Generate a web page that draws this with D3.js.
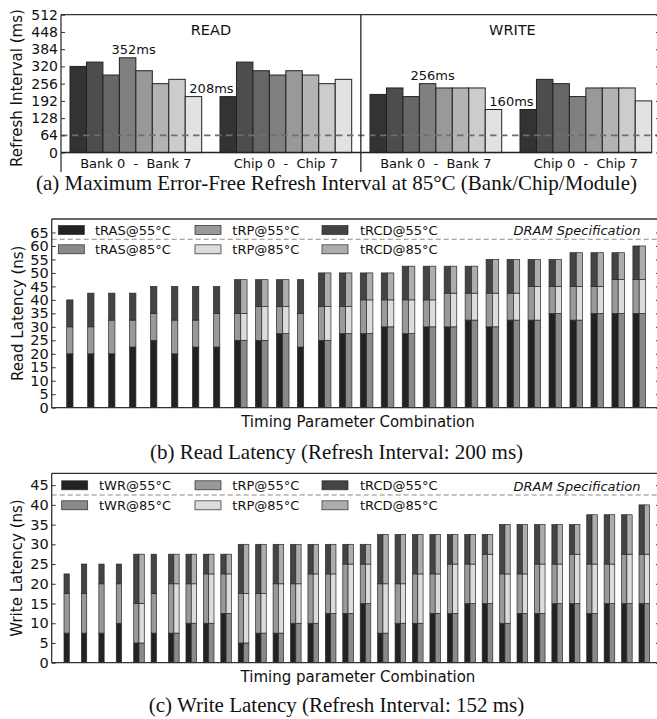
<!DOCTYPE html>
<html>
<head>
<meta charset="utf-8">
<script src="https://cdn.jsdelivr.net/npm/d3@7"></script>
<style>
  body { margin: 0; background: #fff; }
  svg { display: block; font-family: "DejaVu Sans", sans-serif; }
  .caption { font-family: "Liberation Serif", "Times New Roman", serif; }
</style>
</head>
<body>
<svg id="chart" width="657" height="719"></svg>
<script>
// ---------- (a) maximum error-free refresh interval at 85°C, in ms ----------
const unitIds    = ["0", "1", "2", "3", "4", "5", "6", "7"];
const readBank   = [320, 336, 288, 352, 304, 256, 272, 208];
const readChip   = [208, 336, 304, 288, 304, 288, 256, 272];
const writeBank  = [216, 240, 208, 256, 240, 240, 240, 160];
const writeChip  = [160, 272, 256, 208, 240, 240, 240, 192];
const refreshTicks = [0, 64, 128, 192, 256, 320, 384, 448, 512];
const refreshSpec  = 64;

// ---------- (b) read latency per timing combination, in ns ----------
const readRAS = [20, 20, 20, 22.5, 25, 20, 22.5, 22.5, 25, 25, 27.5, 22.5, 25, 27.5,
                 27.5, 30, 27.5, 30, 30, 32.5, 30, 32.5, 32.5, 35, 32.5, 35, 35, 35];
const readRP  = [10, 10, 12.5, 10, 10, 12.5, 10, 12.5, 10, 12.5, 10, 12.5, 12.5, 10,
                 12.5, 10, 12.5, 10, 12.5, 10, 12.5, 10, 12.5, 10, 12.5, 10, 12.5, 12.5];
const readRCD = [10, 12.5, 10, 10, 10, 12.5, 12.5, 10, 12.5, 10, 10, 12.5, 12.5, 12.5,
                 10, 10, 12.5, 12.5, 10, 10, 12.5, 12.5, 10, 10, 12.5, 12.5, 10, 12.5];
// 1 = the combination also works at 85°C
const readHot = [0, 0, 0, 0, 0, 0, 0, 0, 1, 1, 1, 0, 1, 1,
                 1, 1, 1, 1, 1, 1, 1, 1, 1, 1, 1, 1, 1, 1];
const readTicks = [0, 5, 10, 15, 20, 25, 30, 35, 40, 45, 50, 55, 60, 65];
const readSpec  = 62.5;

// ---------- (c) write latency per timing combination, in ns ----------
const writeWR  = [7.5, 7.5, 7.5, 10, 5, 7.5, 7.5, 10, 10, 12.5, 5, 7.5, 7.5, 10, 10, 12.5, 12.5,
                  15, 7.5, 10, 10, 12.5, 12.5, 15, 15, 10, 12.5, 12.5, 15, 15, 12.5, 15, 15, 15];
const writeRP  = [10, 10, 12.5, 10, 10, 10, 12.5, 10, 12.5, 10, 12.5, 10, 12.5, 10, 12.5, 10, 12.5,
                  10, 12.5, 10, 12.5, 10, 12.5, 10, 12.5, 12.5, 10, 12.5, 10, 12.5, 12.5, 10, 12.5, 12.5];
const writeRCD = [5, 7.5, 5, 5, 12.5, 10, 7.5, 7.5, 5, 5, 12.5, 12.5, 10, 10, 7.5, 7.5, 5,
                  5, 12.5, 12.5, 10, 10, 7.5, 7.5, 5, 12.5, 12.5, 10, 10, 7.5, 12.5, 12.5, 10, 12.5];
const writeHot = [0, 0, 0, 0, 1, 0, 1, 1, 1, 1, 1, 1, 1, 1, 1, 1, 1,
                  1, 1, 1, 1, 1, 1, 1, 1, 1, 1, 1, 1, 1, 1, 1, 1, 1];
const writeTicks = [0, 5, 10, 15, 20, 25, 30, 35, 40, 45];
const writeSpec  = 42.5;

const readLegend  = ["tRAS@55°C", "tRAS@85°C", "tRP@55°C", "tRP@85°C", "tRCD@55°C", "tRCD@85°C"];
const writeLegend = ["tWR@55°C", "tWR@85°C", "tRP@55°C", "tRP@85°C", "tRCD@55°C", "tRCD@85°C"];

// ---------- styling ----------
const unitGrays = ["#333333", "#4d4d4d", "#666666", "#808080", "#999999", "#b3b3b3", "#cccccc", "#e2e2e2"];
const cool = ["#222222", "#999999", "#444444"];   // first param, tRP, tRCD at 55°C
const hot  = ["#8a8a8a", "#dcdcdc", "#adadad"];   // same at 85°C
const svg = d3.select("#chart");
const RIGHT = 660;

function spinesAndTicks(g, y, ticks, left, top, bottom, fontSize) {
  // top spine and left spine
  g.append("line").attr("x1", left).attr("x2", RIGHT).attr("y1", top).attr("y2", top)
    .attr("stroke", "#333").attr("stroke-width", 1.3);
  g.append("line").attr("x1", left).attr("x2", left).attr("y1", top).attr("y2", bottom)
    .attr("stroke", "#333").attr("stroke-width", 1.3);
  const ax = g.append("g").attr("transform", `translate(${left},0)`)
    .call(d3.axisLeft(y).tickValues(ticks).tickSizeInner(-4).tickSizeOuter(0).tickPadding(3));
  ax.select(".domain").remove();
  ax.selectAll("line").attr("stroke", "#333");
  ax.selectAll("text").attr("font-size", fontSize).attr("font-family", "DejaVu Sans").attr("fill", "#111");
  const axr = g.append("g").attr("transform", `translate(${RIGHT},0)`)
    .call(d3.axisRight(y).tickValues(ticks).tickSizeInner(-4).tickSizeOuter(0).tickFormat(""));
  axr.select(".domain").remove();
  axr.selectAll("line").attr("stroke", "#333");
}

function yTitle(text, x, y, size) {
  svg.append("text").attr("transform", `translate(${x},${y}) rotate(-90)`)
    .attr("text-anchor", "middle").attr("dy", "0.36em").attr("font-size", size)
    .attr("fill", "#111").text(text);
}

function caption(text, y) {
  svg.append("text").attr("class", "caption").attr("x", 336.5).attr("y", y)
    .attr("text-anchor", "middle").attr("font-size", 21).attr("fill", "#111").text(text);
}

// ================= (a) =================
{
  const left = 61, top = 14.7, bottom = 172;
  const g = svg.append("g");
  const y = d3.scaleLinear().domain([-72, 512]).range([bottom, top]);
  const panels = [
    { mode: "READ",  unit: "Bank", values: readBank },
    { mode: "READ",  unit: "Chip", values: readChip },
    { mode: "WRITE", unit: "Bank", values: writeBank },
    { mode: "WRITE", unit: "Chip", values: writeChip }
  ];
  const outer = d3.scaleBand().domain(d3.range(panels.length)).range([70, 651.7])
    .paddingInner(0.122).paddingOuter(0);
  const inner = d3.scaleBand().domain(unitIds).range([0, outer.bandwidth()]);

  panels.forEach((p, k) => {
    const pg = g.append("g").attr("transform", `translate(${outer(k)},0)`);
    pg.selectAll("rect").data(p.values).join("rect")
      .attr("x", (d, i) => inner(unitIds[i]))
      .attr("width", inner.bandwidth())
      .attr("y", d => y(d))
      .attr("height", d => y(0) - y(d))
      .attr("fill", (d, i) => unitGrays[i])
      .attr("stroke", "#222").attr("stroke-width", 1);
    pg.append("text").attr("x", outer.bandwidth() / 2).attr("y", 167.5)
      .attr("text-anchor", "middle").attr("font-size", 13).attr("fill", "#111")
      .style("white-space", "pre")
      .text(`${p.unit} ${unitIds[0]}  -  ${p.unit} ${unitIds[unitIds.length - 1]}`);
  });

  // zero line
  g.append("line").attr("x1", left).attr("x2", outer(3) + outer.bandwidth())
    .attr("y1", y(0)).attr("y2", y(0)).attr("stroke", "#222").attr("stroke-width", 1.5);
  // refresh interval of the DRAM specification
  g.append("line").attr("x1", left).attr("x2", RIGHT).attr("y1", y(refreshSpec)).attr("y2", y(refreshSpec))
    .attr("stroke", "#6e6e6e").attr("stroke-width", 1.6).attr("stroke-dasharray", "6.5,4.5");

  // best and worst unit annotated in each mode
  const notes = [
    { panel: 0, idx: 3, dx: 6 },
    { panel: 0, idx: 7, dx: 18 },
    { panel: 2, idx: 3, dx: 5 },
    { panel: 2, idx: 7, dx: 18 }
  ];
  notes.forEach(n => {
    const v = panels[n.panel].values[n.idx];
    g.append("text")
      .attr("x", outer(n.panel) + inner(unitIds[n.idx]) + inner.bandwidth() / 2 + n.dx)
      .attr("y", y(v) - 3.5).attr("text-anchor", "middle").attr("font-size", 13)
      .attr("fill", "#111").text(`${v}ms`);
  });

  spinesAndTicks(g, y, refreshTicks, left, top, bottom, 14);
  // divider between READ and WRITE
  const divX = (outer(1) + outer.bandwidth() + outer(2)) / 2;
  g.append("line").attr("x1", divX).attr("x2", divX).attr("y1", top).attr("y2", bottom)
    .attr("stroke", "#222").attr("stroke-width", 1.3);
  g.append("text").attr("x", (left + divX) / 2).attr("y", 34.5).attr("text-anchor", "middle")
    .attr("font-size", 14.5).attr("fill", "#111").text("READ");
  g.append("text").attr("x", (divX + RIGHT) / 2 + 2).attr("y", 34.5).attr("text-anchor", "middle")
    .attr("font-size", 14.5).attr("fill", "#111").text("WRITE");

  yTitle("Refresh Interval (ms)", 16.5, 88, 15);
  caption("(a) Maximum Error-Free Refresh Interval at 85°C (Bank/Chip/Module)", 190);
}

// ================= stacked latency panels =================
function latencyPanel(cfg) {
  const g = svg.append("g");
  const y = d3.scaleLinear().domain(cfg.yDomain).range([cfg.bottom, cfg.top]);
  const n = cfg.first.length;
  const x = d3.scaleLinear().domain([0, n - 1]).range(cfg.xRange);
  const w = cfg.barW;

  const rows = d3.range(n).map(i => ({ i, parts: [cfg.first[i], cfg.rp[i], cfg.rcd[i]], hot: cfg.hot[i] }));
  const segs = [];
  rows.forEach(r => {
    const temps = r.hot ? [0, 1] : [0];
    temps.forEach(t => {
      let acc = 0;
      r.parts.forEach((v, k) => {
        segs.push({ i: r.i, t, k, y0: acc, y1: acc + v });
        acc += v;
      });
    });
  });
  g.selectAll("rect.seg").data(segs).join("rect").attr("class", "seg")
    .attr("x", d => x(d.i) + d.t * w)
    .attr("width", w)
    .attr("y", d => y(d.y1))
    .attr("height", d => y(d.y0) - y(d.y1))
    .attr("fill", d => (d.t ? hot : cool)[d.k])
    .attr("stroke", "#2a2a2a").attr("stroke-width", 0.7);

  // bottom spine
  g.append("line").attr("x1", cfg.left).attr("x2", RIGHT).attr("y1", cfg.bottom).attr("y2", cfg.bottom)
    .attr("stroke", "#333").attr("stroke-width", 1.3);
  // total latency of the DRAM specification
  g.append("line").attr("x1", cfg.left).attr("x2", RIGHT).attr("y1", y(cfg.spec)).attr("y2", y(cfg.spec))
    .attr("stroke", "#8a8a8a").attr("stroke-width", 1.1).attr("stroke-dasharray", "5,3");
  g.append("text").attr("x", 640.5).attr("y", y(cfg.spec) - 4.5).attr("text-anchor", "end")
    .attr("font-size", 13).attr("font-style", "italic").attr("fill", "#111").text("DRAM Specification");

  // legend: three columns, 55°C on the first row, 85°C on the second
  cfg.legend.forEach((label, j) => {
    const col = Math.floor(j / 2), row = j % 2;
    const cy = cfg.legendRows[row];
    const temp = row === 0 ? cool : hot;
    g.append("rect").attr("x", cfg.legendSwatch[col]).attr("y", cy - 4.5)
      .attr("width", 26).attr("height", 9).attr("fill", temp[col])
      .attr("stroke", "#2a2a2a").attr("stroke-width", 0.7);
    g.append("text").attr("x", cfg.legendText[col]).attr("y", cy).attr("dy", "0.36em")
      .attr("font-size", 13).attr("fill", "#111").text(label);
  });

  spinesAndTicks(g, y, cfg.ticks, cfg.left, cfg.top, cfg.bottom, 14.5);
  g.append("text").attr("x", 358).attr("y", cfg.bottom + 19).attr("text-anchor", "middle")
    .attr("font-size", 15).attr("fill", "#111").text(cfg.xTitle);
  yTitle(cfg.yTitle, cfg.yTitleX, (cfg.top + cfg.bottom) / 2, 15);
  caption(cfg.caption, cfg.captionY);
}

latencyPanel({
  first: readRAS, rp: readRP, rcd: readRCD, hot: readHot, spec: readSpec, ticks: readTicks,
  yDomain: [0, 70], top: 219, bottom: 407.7, left: 51.7, xRange: [66.7, 632.9], barW: 6.3,
  legend: readLegend, legendRows: [230, 249.3], legendSwatch: [58.3, 195, 322], legendText: [95, 232.3, 360],
  xTitle: "Timing Parameter Combination", yTitle: "Read Latency (ns)", yTitleX: 18,
  caption: "(b) Read Latency (Refresh Interval: 200 ms)", captionY: 459
});

latencyPanel({
  first: writeWR, rp: writeRP, rcd: writeRCD, hot: writeHot, spec: writeSpec, ticks: writeTicks,
  yDomain: [0, 48], top: 473.3, bottom: 662.7, left: 51.7, xRange: [64, 639], barW: 5.3,
  legend: writeLegend, legendRows: [485.3, 505.3], legendSwatch: [61.7, 195, 322], legendText: [99, 232.3, 360],
  xTitle: "Timing parameter Combination", yTitle: "Write Latency (ns)", yTitleX: 16.5,
  caption: "(c) Write Latency (Refresh Interval: 152 ms)", captionY: 712
});
</script>
</body>
</html>
